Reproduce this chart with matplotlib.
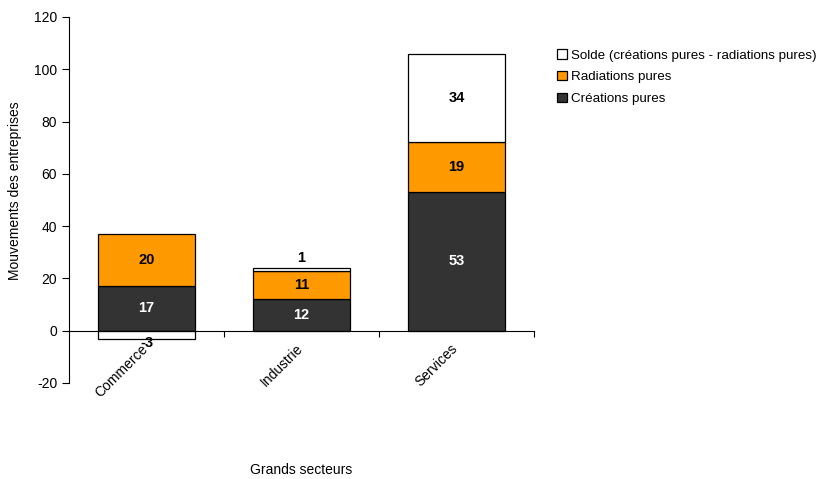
import matplotlib.pyplot as plt
import numpy as np
from matplotlib.transforms import ScaledTranslation

plt.rcParams['font.family'] = ['Liberation Sans', 'DejaVu Sans']
plt.rcParams['axes.unicode_minus'] = False

secteurs = ["Commerce", "Industrie", "Services"]
creations = [17, 12, 53]
radiations = [20, 11, 19]
solde = [-3, 1, 34]

fig = plt.figure(figsize=(8.19, 4.79), dpi=100)
ax = fig.add_axes([69/819, 96/479, 465/819, 366/479])

x = np.arange(len(secteurs))
w = 0.63

ax.bar(x, creations, w, color="#333333", edgecolor="black", lw=0.9, label="Créations pures")
ax.bar(x, radiations, w, bottom=creations, color="#FF9900", edgecolor="black", lw=0.9,
       label="Radiations pures")
base = [c + r if s >= 0 else 0 for c, r, s in zip(creations, radiations, solde)]
ax.bar(x, solde, w, bottom=base, color="white", edgecolor="black", lw=0.9,
       label="Solde (créations pures - radiations pures)")

# étiquettes des valeurs
def etiquettes(vals, bottoms, color):
    for xi, v, b in zip(x, vals, bottoms):
        if abs(v) >= 5:
            ax.text(xi, b + v / 2, str(v), ha="center", va="center",
                    color=color, fontsize=10.5, fontweight="bold")
        elif v >= 0:
            ax.annotate(str(v), (xi, b + v), xytext=(0, 2), textcoords="offset points",
                        ha="center", va="bottom", fontsize=10.5, fontweight="bold")
        else:
            ax.annotate(str(v), (xi, b + v), xytext=(0, -3), textcoords="offset points",
                        ha="center", va="center", fontsize=10.5, fontweight="bold")

etiquettes(creations, [0] * 3, "white")
etiquettes(radiations, creations, "black")
etiquettes(solde, base, "black")

ax.set_xlim(-0.5, 2.5)
ax.set_ylim(-20, 120)
ax.set_yticks(range(-20, 121, 20))
ax.tick_params(axis="y", direction="out", length=5, labelsize=10)

ax.spines["bottom"].set_position(("data", 0))
ax.spines["top"].set_visible(False)
ax.spines["right"].set_visible(False)
ax.set_xticks([0.5, 1.5, 2.5])
ax.set_xticklabels([])
ax.tick_params(axis="x", which="major", direction="out", length=4)
ax.set_xticks(x, minor=True)
ax.set_xticklabels(secteurs, minor=True, rotation=45, ha="right", rotation_mode="anchor")
ax.tick_params(axis="x", which="minor", length=0, pad=8, labelsize=10)
decal = ScaledTranslation(-6/100, 0, fig.dpi_scale_trans)
for t in ax.get_xticklabels(minor=True):
    t.set_transform(t.get_transform() + decal)

ax.set_ylabel("Mouvements des entreprises", fontsize=10)
ax.yaxis.set_label_coords(-0.1, 0.525)
fig.text(301/819, 1 - 470/479, "Grands secteurs", ha="center", va="center", fontsize=10)

h, l = ax.get_legend_handles_labels()
fig.legend(h[::-1], l[::-1], loc="upper left", bbox_to_anchor=(552/819, 1 - 44/479),
           frameon=False, fontsize=9.6, handlelength=0.7, handleheight=0.7,
           handletextpad=0.3, labelspacing=0.7, borderaxespad=0)

fig.savefig("out.png", dpi=100)
